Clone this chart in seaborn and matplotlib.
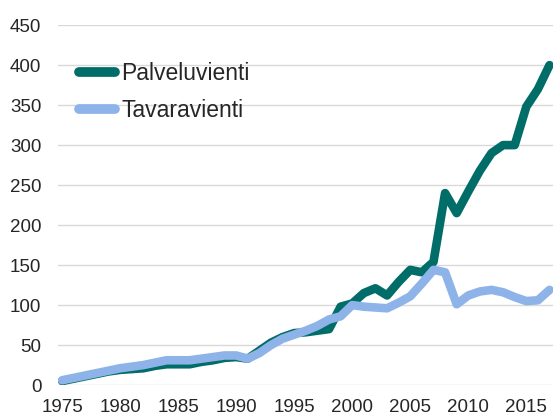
import pandas as pd
import matplotlib
matplotlib.use('Agg')
import matplotlib.pyplot as plt
import seaborn as sns

years = list(range(1975, 2018))

# services exports (dark line)
palvelu = [5, 8, 11, 14, 17, 19, 20, 21, 24, 26, 26, 26, 29, 31, 34, 35, 33, 43, 53, 60,
           65, 66, 68, 70, 98, 102, 115, 121, 112, 129, 144, 141, 154, 240, 215, 242, 268,
           290, 300, 300, 348, 370, 400]
# goods exports (light line)
tavara = [6, 9, 12, 15, 18, 21, 23, 25, 28, 31, 31, 31, 33, 35, 37, 37, 33, 40, 50, 58,
          63, 68, 74, 82, 86, 100, 98, 97, 96, 103, 111, 127, 144, 141, 101, 112, 117,
          119, 116, 110, 105, 106, 119]

df = pd.DataFrame({
    'year': years * 2,
    'value': palvelu + tavara,
    'series': ['Palveluvienti'] * len(years) + ['Tavaravienti'] * len(years),
})

sns.set_style('white')
plt.rcParams['font.family'] = ['Liberation Sans', 'DejaVu Sans']

fig = plt.figure(figsize=(5.53, 4.19), dpi=100)
ax = fig.add_axes([0.105, 0.081, 0.895, 0.859])

palette = {'Palveluvienti': '#006D68', 'Tavaravienti': '#8DB3E8'}
sns.lineplot(data=df, x='year', y='value', hue='series', palette=palette,
             linewidth=6.2, ax=ax, solid_capstyle='round')

ax.set_xlim(1974.65, 2017.3)
ax.set_ylim(0, 450)
ax.set_yticks(range(0, 451, 50))
ax.set_xticks(range(1975, 2016, 5))
ax.tick_params(axis='both', labelsize=13.5, length=0, colors='#262626')
ax.tick_params(axis='x', pad=10)
ax.tick_params(axis='y', pad=12)
ax.yaxis.grid(True, color='#d9d9d9', linewidth=1)
ax.set_axisbelow(True)
for s in ax.spines.values():
    s.set_visible(False)
ax.set_xlabel('')
ax.set_ylabel('')

leg = ax.legend(loc='upper left', bbox_to_anchor=(0.0, 0.955), frameon=False,
                fontsize=16.5, handlelength=1.6, handletextpad=0.25, labelspacing=0.62)
for line in leg.get_lines():
    line.set_linewidth(7)
    line.set_solid_capstyle('round')
for t in leg.get_texts():
    t.set_color('#262626')

fig.savefig('out.png', dpi=100)
